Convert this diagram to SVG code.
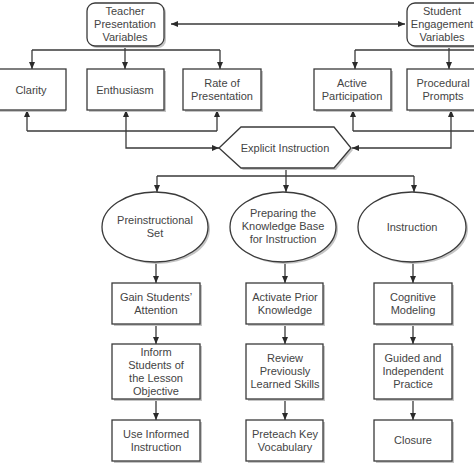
<svg xmlns="http://www.w3.org/2000/svg" width="474" height="474" viewBox="0 0 474 474">
<defs>
<marker id="ah" markerWidth="7" markerHeight="6" refX="7" refY="3" orient="auto-start-reverse" markerUnits="userSpaceOnUse">
<path d="M0,0 L7,3 L0,6 z" fill="#2a2a2a"/>
</marker>
</defs>
<style>
.box{fill:#fff;stroke:#3a3a3a;stroke-width:1.3}
.sh{fill:#c4c4c4}
.t{font-family:"Liberation Sans",Arial,sans-serif;font-size:11px;fill:#444;text-anchor:middle;dominant-baseline:central}
.c{fill:none;stroke:#3a3a3a;stroke-width:1.3}
.a{fill:none;stroke:#3a3a3a;stroke-width:1.3;marker-end:url(#ah)}
</style>
<rect width="474" height="474" fill="#fff"/>
<g id="connectors">
<path class="a" d="M171 24 H405" marker-start="url(#ah)"/>
<path class="c" d="M125 46 V50 M32 50 H220"/>
<path class="a" d="M32 50 V69"/>
<path class="a" d="M125 50 V69"/>
<path class="a" d="M220 50 V69"/>
<path class="c" d="M449 46 V50 M355 50 H474"/>
<path class="a" d="M355 50 V69"/>
<path class="a" d="M449 50 V69"/>
<path class="c" d="M27 131 H217"/>
<path class="a" d="M27 131 V110"/>
<path class="a" d="M126 131 V110"/>
<path class="a" d="M217 131 V110"/>
<path class="a" d="M126 131 V148 H219"/>
<path class="c" d="M353 131 H474"/>
<path class="a" d="M353 131 V110"/>
<path class="a" d="M451 131 V110"/>
<path class="a" d="M451 131 V148 H352"/>
<path class="c" d="M286 168 V176 M157 176 H414"/>
<path class="a" d="M157 176 V192"/>
<path class="a" d="M286 176 V192"/>
<path class="a" d="M414 176 V192"/>
<path class="a" d="M156 262 V283"/>
<path class="a" d="M156 324 V344"/>
<path class="a" d="M156 399 V420"/>
<path class="a" d="M285 262 V283"/>
<path class="a" d="M285 324 V344"/>
<path class="a" d="M285 399 V420"/>
<path class="a" d="M413 262 V283"/>
<path class="a" d="M413 324 V344"/>
<path class="a" d="M413 399 V420"/>
</g>
<g id="teacher">
<rect class="sh" x="89" y="5" width="77" height="43" rx="8"/>
<rect class="box" x="87" y="3" width="77" height="43" rx="8"/>
<text class="t" x="125" y="11">Teacher</text>
<text class="t" x="125" y="24">Presentation</text>
<text class="t" x="125" y="37">Variables</text>
</g>
<g id="student">
<rect class="sh" x="409" y="5" width="84" height="43" rx="8"/>
<rect class="box" x="407" y="3" width="84" height="43" rx="8"/>
<text class="t" x="442" y="11">Student</text>
<text class="t" x="442" y="24">Engagement</text>
<text class="t" x="442" y="37">Variables</text>
</g>
<g id="clarity">
<rect class="sh" x="-1" y="71" width="67" height="41"/>
<rect class="box" x="-3" y="69" width="69" height="41"/>
<text class="t" x="31" y="90">Clarity</text>
</g>
<g id="enthusiasm">
<rect class="sh" x="89" y="71" width="77" height="41"/>
<rect class="box" x="87" y="69" width="77" height="41"/>
<text class="t" x="125" y="90">Enthusiasm</text>
</g>
<g id="rate">
<rect class="sh" x="185" y="71" width="78" height="41"/>
<rect class="box" x="183" y="69" width="78" height="41"/>
<text class="t" x="222" y="83">Rate of</text>
<text class="t" x="222" y="96">Presentation</text>
</g>
<g id="active">
<rect class="sh" x="316" y="71" width="77" height="41"/>
<rect class="box" x="314" y="69" width="77" height="41"/>
<text class="t" x="352" y="83">Active</text>
<text class="t" x="352" y="96">Participation</text>
</g>
<g id="procedural">
<rect class="sh" x="409" y="71" width="84" height="41"/>
<rect class="box" x="407" y="69" width="84" height="41"/>
<text class="t" x="443" y="83">Procedural</text>
<text class="t" x="443" y="96">Prompts</text>
</g>
<g id="explicit">
<polygon class="sh" points="221,150 243,129 336,129 353,150 336,170 243,170"/>
<polygon class="box" points="219,148 241,127 334,127 351,148 334,168 241,168"/>
<text class="t" x="285" y="148">Explicit Instruction</text>
</g>
<g id="preinstructional">
<ellipse class="sh" cx="157" cy="229" rx="53" ry="35"/>
<ellipse class="box" cx="155" cy="227" rx="53" ry="35"/>
<text class="t" x="155" y="220">Preinstructional</text>
<text class="t" x="155" y="233">Set</text>
</g>
<g id="preparing">
<ellipse class="sh" cx="285" cy="229" rx="53" ry="35"/>
<ellipse class="box" cx="283" cy="227" rx="53" ry="35"/>
<text class="t" x="283" y="213">Preparing the</text>
<text class="t" x="283" y="226">Knowledge Base</text>
<text class="t" x="283" y="239">for Instruction</text>
</g>
<g id="instruction">
<ellipse class="sh" cx="414" cy="229" rx="54" ry="35"/>
<ellipse class="box" cx="412" cy="227" rx="54" ry="35"/>
<text class="t" x="412" y="227">Instruction</text>
</g>
<g id="gain">
<rect class="sh" x="114" y="285" width="88" height="41"/>
<rect class="box" x="112" y="283" width="88" height="41"/>
<text class="t" x="156" y="297">Gain Students’</text>
<text class="t" x="156" y="310">Attention</text>
</g>
<g id="inform">
<rect class="sh" x="114" y="346" width="88" height="55"/>
<rect class="box" x="112" y="344" width="88" height="55"/>
<text class="t" x="156" y="352">Inform</text>
<text class="t" x="156" y="365">Students of</text>
<text class="t" x="156" y="378">the Lesson</text>
<text class="t" x="156" y="391">Objective</text>
</g>
<g id="useinformed">
<rect class="sh" x="114" y="422" width="88" height="41"/>
<rect class="box" x="112" y="420" width="88" height="41"/>
<text class="t" x="156" y="434">Use Informed</text>
<text class="t" x="156" y="447">Instruction</text>
</g>
<g id="activate">
<rect class="sh" x="248" y="285" width="77" height="41"/>
<rect class="box" x="246" y="283" width="77" height="41"/>
<text class="t" x="285" y="297">Activate Prior</text>
<text class="t" x="285" y="310">Knowledge</text>
</g>
<g id="review">
<rect class="sh" x="248" y="346" width="77" height="55"/>
<rect class="box" x="246" y="344" width="77" height="55"/>
<text class="t" x="285" y="358">Review</text>
<text class="t" x="285" y="371">Previously</text>
<text class="t" x="285" y="384">Learned Skills</text>
</g>
<g id="preteach">
<rect class="sh" x="248" y="422" width="77" height="41"/>
<rect class="box" x="246" y="420" width="77" height="41"/>
<text class="t" x="285" y="434">Preteach Key</text>
<text class="t" x="285" y="447">Vocabulary</text>
</g>
<g id="cognitive">
<rect class="sh" x="376" y="285" width="78" height="41"/>
<rect class="box" x="374" y="283" width="78" height="41"/>
<text class="t" x="413" y="297">Cognitive</text>
<text class="t" x="413" y="310">Modeling</text>
</g>
<g id="guided">
<rect class="sh" x="376" y="346" width="78" height="55"/>
<rect class="box" x="374" y="344" width="78" height="55"/>
<text class="t" x="413" y="358">Guided and</text>
<text class="t" x="413" y="371">Independent</text>
<text class="t" x="413" y="384">Practice</text>
</g>
<g id="closure">
<rect class="sh" x="376" y="422" width="78" height="41"/>
<rect class="box" x="374" y="420" width="78" height="41"/>
<text class="t" x="413" y="440">Closure</text>
</g>
</svg>
